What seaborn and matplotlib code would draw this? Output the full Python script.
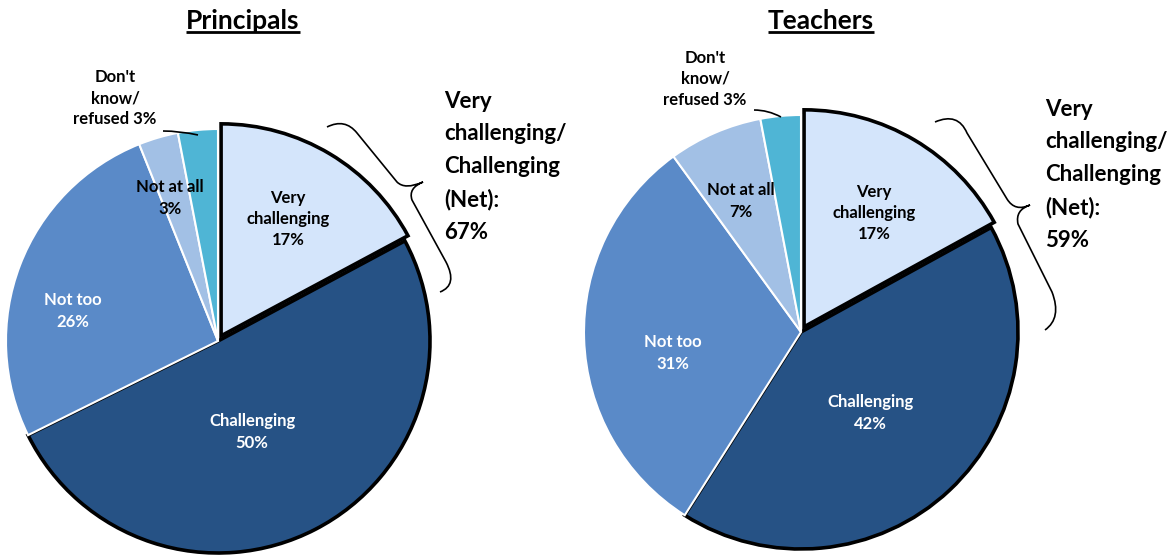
import matplotlib
matplotlib.use("Agg")
import matplotlib.pyplot as plt
import seaborn as sns
from matplotlib.path import Path
from matplotlib.patches import PathPatch

# ---------------- data ----------------
categories = ["Very challenging", "Challenging", "Not too", "Not at all", "Don't know/refused"]
short_labels = ["Very\nchallenging", "Challenging", "Not too", "Not at all", "Don't\nknow/\nrefused"]
principals = [17, 50, 26, 3, 3]
teachers = [17, 42, 31, 7, 3]
titles = ["Principals", "Teachers"]

# ---------------- style ----------------
sns.set_theme(style="white")
plt.rcParams['font.family'] = ['Lato', 'DejaVu Sans']
plt.rcParams['font.weight'] = 'bold'

colors = sns.color_palette(["#D4E5FB", "#265285", "#5A8AC8", "#A2C0E5", "#4FB5D5"])
text_colors = ["black", "white", "white", "black", "black"]

W, H = 1176, 556
fig = plt.figure(figsize=(W / 100, H / 100), dpi=100)
ax = fig.add_axes([0, 0, 1, 1])


def Y(y):
    return H - y


# layout (pixel positions in image coords, y downward)
layouts = [
    dict(center=(218, 341), radius=212, title_x=243,
         label_pos=[(288, 219), (252, 432), (73, 311), (170, 198), (115, 98)],
         leader=[(163, 131), (180, 131), (198, 135)],
         net_pos=(444, 167),
         brace=[(327, 127), (345, 118), (357, 133), (397, 182), (405, 190), (423, 182),
                (408, 188), (412, 200), (446, 262), (458, 285), (440, 292)]),
    dict(center=(801, 332), radius=217, title_x=821,
         label_pos=[(874, 213), (870, 413), (673, 353), (741, 201), (705, 79)],
         leader=[(754, 110), (768, 110), (781, 117)],
         net_pos=(1045, 175),
         brace=[(935, 122), (958, 112), (967, 133), (1007, 199), (1015, 212), (1030, 205),
                (1015, 210), (1018, 224), (1052, 292), (1062, 318), (1045, 330)]),
]

inner_fs = 12
net_fs = 16
title_fs = 19

for values, title, lay in zip([principals, teachers], titles, layouts):
    cx, cy = lay["center"]
    wedges, _ = ax.pie(values, colors=colors, startangle=90, counterclock=False,
                       center=(cx, Y(cy)), radius=lay["radius"],
                       explode=[6, 0, 0, 0, 0],
                       wedgeprops=dict(linewidth=1.5, edgecolor="white"),
                       frame=True)
    for w in wedges[:2]:
        w.set_edgecolor("black")
        w.set_linewidth(2.6)

    # slice labels
    for i, (name, v) in enumerate(zip(short_labels, values)):
        if i == 4:
            txt = f"{name} {v}%"
        else:
            txt = f"{name}\n{v}%"
        x, y = lay["label_pos"][i]
        ax.text(x, Y(y), txt, ha="center", va="center", multialignment="center",
                fontsize=inner_fs, fontweight="bold", color=text_colors[i],
                linespacing=1.4)

    # leader line for "Don't know"
    verts = [(p[0], Y(p[1])) for p in lay["leader"]]
    ax.add_patch(PathPatch(Path(verts, [Path.MOVETO, Path.CURVE3, Path.CURVE3]),
                           facecolor="none", edgecolor="black", lw=1.2))

    # net text
    net = values[0] + values[1]
    nx, ny = lay["net_pos"]
    ax.text(nx, Y(ny), f"Very\nchallenging/\nChallenging\n(Net):\n{net}%",
            ha="left", va="center", fontsize=net_fs, fontweight="bold",
            color="black", linespacing=1.68)

    # curly brace
    b = [(p[0], Y(p[1])) for p in lay["brace"]]
    codes = [Path.MOVETO, Path.CURVE3, Path.CURVE3, Path.LINETO,
             Path.CURVE3, Path.CURVE3, Path.CURVE3, Path.CURVE3,
             Path.LINETO, Path.CURVE3, Path.CURVE3]
    ax.add_patch(PathPatch(Path(b, codes), facecolor="none", edgecolor="black", lw=1.2))

    # title with underline
    t = ax.text(lay["title_x"], Y(29), title, ha="center", va="baseline",
                fontsize=title_fs, fontweight="bold", color="black")
    lay["title_artist"] = t

ax.set_xlim(0, W)
ax.set_ylim(0, H)
ax.axis("off")

fig.canvas.draw()
renderer = fig.canvas.get_renderer()
for lay in layouts:
    bb = lay["title_artist"].get_window_extent(renderer)
    ax.plot([bb.x0, bb.x1], [Y(32), Y(32)], color="black", lw=2, solid_capstyle="butt")

fig.savefig("out.png", dpi=100)
